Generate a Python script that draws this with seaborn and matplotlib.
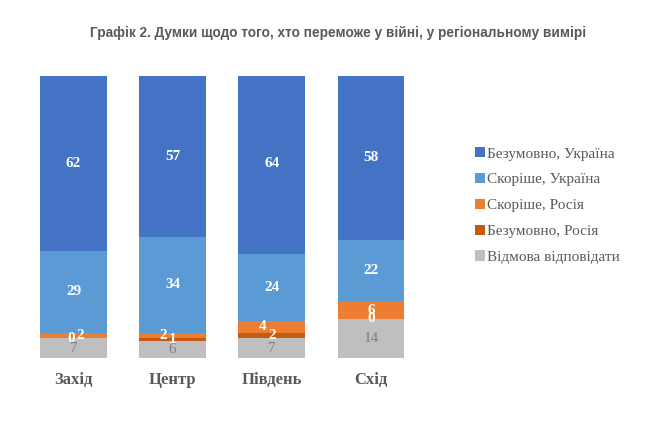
import matplotlib
matplotlib.use("Agg")
import matplotlib.pyplot as plt
from matplotlib.patches import Patch
import seaborn as sns
import pandas as pd
import numpy as np

# data
regions = ["Захід", "Центр", "Південь", "Схід"]
series_names = ["Відмова відповідати", "Безумовно, Росія", "Скоріше, Росія",
                "Скоріше, Україна", "Безумовно, Україна"]
refuse = [7, 6, 7, 14]
sure_russia = [0, 1, 2, 0]
rather_russia = [2, 2, 4, 6]
rather_ukraine = [29, 34, 24, 22]
sure_ukraine = [62, 57, 64, 58]

colors = ["#BFBFBF", "#C55A11", "#ED7D31", "#5B9BD5", "#4472C4"]
series_values = [refuse, sure_russia, rather_russia, rather_ukraine, sure_ukraine]

# label nudges (pixels) for the crowded small segments
label_dx = {
    1: [-2, 0, 0, 0],
    2: [7, -9, -9, 0],
}

TEXT_GREY = "#595959"
SERIF = "Liberation Serif"
SANS = "Liberation Sans"

sns.set_style("white")

fig = plt.figure(figsize=(6.52, 4.23), dpi=100)
ax = fig.add_axes([23.9 / 652, 65 / 423, 396.7 / 652, 282 / 423])

vals = np.array(series_values, dtype=float)
cum = np.cumsum(vals, axis=0)
bottoms = cum - vals

# stack by drawing cumulative totals from the top series down
for i in range(len(series_names) - 1, -1, -1):
    df = pd.DataFrame({"region": regions, "value": cum[i]})
    sns.barplot(data=df, x="region", y="value", color=colors[i], saturation=1,
                width=0.675, errorbar=None, ax=ax, linewidth=0)

ax.set_xlim(-0.5, 3.5)
ax.set_ylim(0, 100)
ax.set_xlabel("")
ax.set_ylabel("")
ax.set_yticks([])
sns.despine(ax=ax, left=True, bottom=True)
ax.tick_params(axis="x", length=0, pad=10)
for lbl in ax.get_xticklabels():
    lbl.set_fontfamily(SERIF)
    lbl.set_fontweight("bold")
    lbl.set_fontsize(12)
    lbl.set_color(TEXT_GREY)

# value labels
px = 1 / 99.2
for i in range(len(series_names)):
    for j in range(len(regions)):
        center = bottoms[i, j] + vals[i, j] / 2
        dx = label_dx.get(i, [0, 0, 0, 0])[j] * px
        if i == 0:
            ax.text(j + dx, center, f"{int(vals[i, j])}", ha="center", va="center",
                    fontsize=11, family=SERIF, color="#7F7F7F")
        else:
            ax.text(j + dx, center, f"{int(vals[i, j])}", ha="center", va="center",
                    fontsize=11, family=SERIF, fontweight="bold", color="white")

# legend, top entry first
handles = [Patch(facecolor=colors[i], edgecolor="none", label=series_names[i])
           for i in range(len(series_names) - 1, -1, -1)]
leg = fig.legend(handles=handles, loc="upper left", bbox_to_anchor=(469 / 652, 1 - 141 / 423),
                 frameon=False, prop={"family": SERIF, "size": 11},
                 handlelength=0.65, handleheight=0.65, handletextpad=0.15,
                 labelspacing=0.81, borderaxespad=0)
for t in leg.get_texts():
    t.set_color(TEXT_GREY)

fig.text(338 / 652, 1 - 33 / 423,
         "Графік 2. Думки щодо того, хто переможе у війні, у регіональному вимірі",
         ha="center", va="center", fontsize=9.8, fontweight="bold",
         family=SANS, color=TEXT_GREY)

fig.savefig("out.png", dpi=100)
